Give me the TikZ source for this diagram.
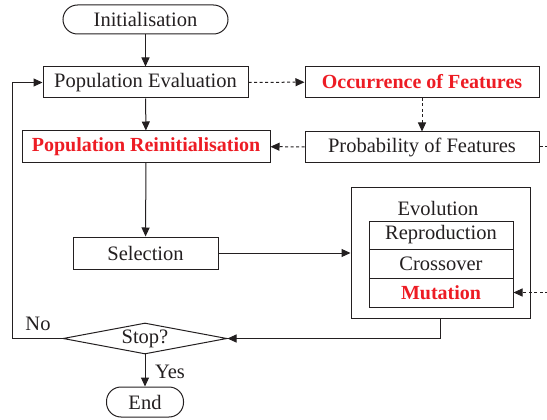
\documentclass[tikz,border=0pt]{standalone}
\usepackage{fontspec}
\setmainfont{Liberation Serif}
\usetikzlibrary{arrows.meta,shapes.geometric}
\definecolor{hl}{RGB}{237,28,36}
\definecolor{ink}{RGB}{35,31,32}
\begin{document}
\begin{tikzpicture}[x=1pt,y=-1pt,
  font=\fontsize{20.5}{23}\selectfont, every node/.style={text=ink},
  box/.style={draw=ink, line width=1pt, rectangle, inner sep=0pt, anchor=center},
  term/.style={box, rounded corners=14.5pt},
  redtxt/.style={text=hl, font=\fontsize{20}{23}\selectfont\bfseries},
  conn/.style={draw=ink, line width=1pt, -{Triangle[length=9pt,width=8pt]}},
  dotconn/.style={conn, dash pattern=on 3pt off 2.5pt}
]
\useasboundingbox (0,0) rectangle (547,420);
\node[term, minimum width=165pt, minimum height=29pt] (init) at (145.5,19.5) {Initialisation};
\node[box, minimum width=205pt, minimum height=31pt] (eval) at (145.5,82.5) {Population Evaluation};
\node[box, minimum width=234pt, minimum height=31pt, redtxt] (occ) at (422,82) {Occurrence of Features};
\node[box, minimum width=234pt, minimum height=30pt] (prob) at (422,147) {Probability of Features};
\node[box, minimum width=248pt, minimum height=31pt, redtxt] (reinit) at (146,146.5) {Population Reinitialisation};
\node[box, minimum width=145pt, minimum height=32pt] (sel) at (145.5,253) {Selection};
\node[box, minimum width=179pt, minimum height=131pt] (evo) at (440.5,252.5) {};
\node (evotitle) at (438,208) {Evolution};
\node[box, minimum width=144pt, minimum height=28pt] (rep) at (441,235) {Reproduction};
\node[box, minimum width=144pt, minimum height=29pt] (cross) at (441,263.5) {Crossover};
\node[box, minimum width=144pt, minimum height=29pt, redtxt] (mut) at (441,292.5) {Mutation};
\node[draw=ink, line width=1pt, diamond, aspect=5.3, inner sep=0pt, minimum width=164pt, minimum height=31pt] (stop) at (145,338.5) {Stop?};
\node[term, minimum width=77pt, minimum height=30pt] (end) at (145,402) {End};
\node (no) at (38,324) {No};
\node (yes) at (170,372) {Yes};
\coordinate (loop) at (12,338.5);
\coordinate (probout) at (548,147);
\coordinate (mutin) at (548,292.5);

\draw[conn] (init) -- (eval);
\draw[conn] (eval) -- (reinit);
\draw[conn] (reinit) -- (sel);
\draw[conn] (sel.east) -- (evo.west |- sel.east);
\draw[conn] (evo.south) |- (stop.east);
\draw[conn] (stop) -- (end);
\draw[conn] (stop.west) -- (loop) |- (eval.west);
\draw[dotconn] (eval) -- (occ);
\draw[dotconn] (occ) -- (prob);
\draw[dotconn] (prob) -- (reinit);
\draw[draw=ink, line width=1pt, dash pattern=on 3pt off 2.5pt] (prob.east) -- (probout);
\draw[dotconn] (mutin) -- (mut.east);
\end{tikzpicture}
\end{document}
